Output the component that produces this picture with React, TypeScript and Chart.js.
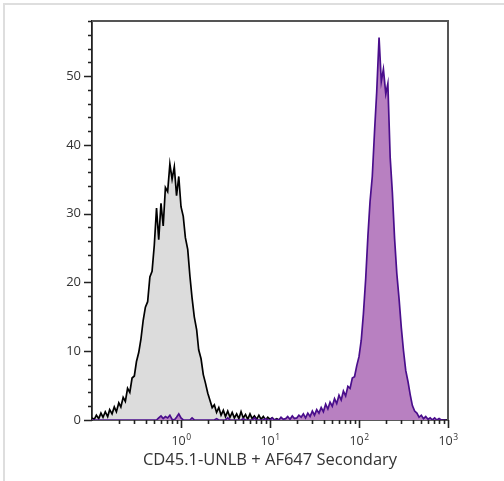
import { useEffect, useRef } from "react";
import { Chart, registerables } from "chart.js";

Chart.register(...registerables);

// Histogram bin centres (log-spaced channels)
const bins = [
  0.1, 0.106, 0.112, 0.119, 0.126, 0.133, 0.141, 0.15, 0.158, 0.168, 0.178, 0.188, 0.2, 0.211, 0.224, 0.237, 0.251, 0.266, 0.282, 0.299,
  0.316, 0.335, 0.355, 0.376, 0.398, 0.422, 0.447, 0.473, 0.501, 0.531, 0.562, 0.596, 0.631, 0.668, 0.708, 0.75, 0.794, 0.841, 0.891, 0.944,
  1.0, 1.06, 1.12, 1.19, 1.26, 1.33, 1.41, 1.5, 1.58, 1.68, 1.78, 1.88, 2.0, 2.11, 2.24, 2.37, 2.51, 2.66, 2.82, 2.99,
  3.16, 3.35, 3.55, 3.76, 3.98, 4.22, 4.47, 4.73, 5.01, 5.31, 5.62, 5.96, 6.31, 6.68, 7.08, 7.5, 7.94, 8.41, 8.91, 9.44,
  10.0, 10.6, 11.2, 11.9, 12.6, 13.3, 14.1, 15.0, 15.8, 16.8, 17.8, 18.8, 20.0, 21.1, 22.4, 23.7, 25.1, 26.6, 28.2, 29.9,
  31.6, 33.5, 35.5, 37.6, 39.8, 42.2, 44.7, 47.3, 50.1, 53.1, 56.2, 59.6, 63.1, 66.8, 70.8, 75.0, 79.4, 84.1, 89.1, 94.4,
  100, 106, 112, 119, 126, 133, 141, 150, 158, 168, 178, 188, 200, 211, 224, 237, 251, 266, 282, 299,
  316, 335, 355, 376, 398, 422, 447, 473, 501, 531, 562, 596, 631, 668, 708, 750, 794, 841, 891, 944,
];

// Control histogram (grey)
const grayCounts = [
  0.3, 0.1, 0.7, 0.2, 1.0, 0.4, 1.2, 0.5, 1.5, 0.9, 1.9, 1.2, 2.5, 1.9, 3.3, 2.7, 4.6, 4.0, 6.1, 6.4,
  8.5, 9.8, 11.8, 14.5, 16.4, 17.2, 20.8, 21.6, 25.4, 30.8, 26.2, 31.5, 28.2, 33.8, 33.2, 37.2, 35.0, 36.8, 32.6, 35.4,
  31.0, 29.6, 26.5, 24.8, 20.9, 17.8, 15.0, 13.1, 10.2, 8.9, 6.6, 5.4, 3.9, 2.9, 1.8, 2.2, 1.1, 1.8, 0.7, 1.4,
  0.5, 1.3, 0.4, 1.1, 0.3, 0.9, 0.2, 1.2, 0.3, 0.8, 0.1, 0.9, 0.2, 0.6, 0.1, 0.7, 0.1, 0.5, 0, 0.4,
  0.1, 0.3, 0, 0.2, 0, 0.3, 0, 0.1, 0, 0.2, 0, 0.1, 0, 0.2, 0, 0.1, 0, 0.1, 0, 0,
];

// Stained histogram (purple)
const purpleCounts = [
  0, 0, 0, 0, 0, 0, 0, 0, 0, 0, 0, 0, 0, 0, 0, 0, 0, 0, 0, 0,
  0, 0, 0, 0, 0, 0, 0, 0, 0, 0, 0.3, 0.6, 0.2, 0.5, 0.3, 0.7, 0.1, 0, 0.4, 0.9,
  0.3, 0, 0, 0, 0, 0.3, 0, 0, 0, 0, 0, 0, 0, 0, 0, 0, 0.2, 0, 0, 0,
  0, 0.3, 0, 0, 0, 0, 0, 0, 0.2, 0, 0, 0, 0, 0.3, 0, 0, 0, 0, 0.2, 0,
  0, 0.3, 0, 0.1, 0, 0.4, 0.1, 0.2, 0.5, 0.1, 0.6, 0.2, 0.3, 0.7, 0.4, 0.9, 0.3, 1.0, 0.5, 1.3,
  0.7, 1.5, 1.0, 1.8, 1.2, 2.3, 1.6, 2.6, 2.0, 3.1, 2.4, 3.6, 2.9, 4.2, 3.5, 4.9, 4.6, 6.1, 6.3, 7.9,
  9.2, 11.6, 15.4, 20.6, 26.8, 31.7, 35.4, 42.3, 47.6, 55.6, 49.2, 51.0, 47.4, 48.9, 38.2, 33.1, 26.4, 21.3, 17.6, 13.4,
  10.1, 7.2, 5.6, 3.7, 2.1, 1.3, 1.0, 0.4, 0.7, 0.2, 0.5, 0.1, 0.3, 0, 0.3, 0, 0.2, 0, 0, 0,
];

const xMajorTicks = [1, 10, 100, 1000];
const xTickBases = ["10", "10", "10", "10"];
const xTickExponents = ["0", "1", "2", "3"];
const xMinorTicks = [
  0.2, 0.3, 0.4, 0.5, 0.6, 0.7, 0.8, 0.9,
  2, 3, 4, 5, 6, 7, 8, 9,
  20, 30, 40, 50, 60, 70, 80, 90,
  200, 300, 400, 500, 600, 700, 800, 900,
];
const yMajorTicks = [0, 10, 20, 30, 40, 50];
const yMinorTicks = [2, 4, 6, 8, 12, 14, 16, 18, 22, 24, 26, 28, 32, 34, 36, 38, 42, 44, 46, 48, 52, 54, 56, 58];
const xTitle = "CD45.1-UNLB + AF647 Secondary";

const W = 504;
const H = 481;
const LEFT = 92;
const RIGHT = 448;
const TOP = 21;
const BOTTOM = 420;
const FONT = "'Open Sans', sans-serif";

const tickPlugin = {
  id: "fcsTicks",
  afterDraw(chart: any) {
    const { ctx, chartArea } = chart;
    const x = chart.scales.x;
    const y = chart.scales.y;
    ctx.save();
    // frame top & right
    ctx.strokeStyle = "#555";
    ctx.lineWidth = 2;
    ctx.beginPath();
    ctx.moveTo(chartArea.left, chartArea.top);
    ctx.lineTo(chartArea.right, chartArea.top);
    ctx.lineTo(chartArea.right, chartArea.bottom);
    ctx.stroke();

    ctx.strokeStyle = "#222";
    ctx.lineWidth = 1.6;
    ctx.beginPath();
    yMajorTicks.forEach((v) => {
      const py = Math.round(y.getPixelForValue(v)) + 0.5;
      ctx.moveTo(chartArea.left - 8, py);
      ctx.lineTo(chartArea.left, py);
    });
    yMinorTicks.forEach((v) => {
      const py = Math.round(y.getPixelForValue(v)) + 0.5;
      ctx.moveTo(chartArea.left - 4, py);
      ctx.lineTo(chartArea.left, py);
    });
    xMajorTicks.forEach((v) => {
      const px = Math.round(x.getPixelForValue(v)) + 0.5;
      ctx.moveTo(px, chartArea.bottom);
      ctx.lineTo(px, chartArea.bottom + 8);
    });
    xMinorTicks.forEach((v) => {
      const px = Math.round(x.getPixelForValue(v)) + 0.5;
      ctx.moveTo(px, chartArea.bottom);
      ctx.lineTo(px, chartArea.bottom + 4);
    });
    ctx.stroke();

    // x tick labels with superscript exponents
    ctx.fillStyle = "#333";
    ctx.textBaseline = "alphabetic";
    ctx.textAlign = "left";
    xMajorTicks.forEach((v, i) => {
      const px = x.getPixelForValue(v);
      ctx.font = `12.5px ${FONT}`;
      const bw = ctx.measureText(xTickBases[i]).width;
      ctx.font = `8.5px ${FONT}`;
      const ew = ctx.measureText(xTickExponents[i]).width;
      const start = px - (bw + ew) / 2;
      ctx.font = `12.5px ${FONT}`;
      ctx.fillText(xTickBases[i], start, chartArea.bottom + 25);
      ctx.font = `8.5px ${FONT}`;
      ctx.fillText(xTickExponents[i], start + bw + 0.5, chartArea.bottom + 20);
    });
    ctx.restore();
  },
};

export default function App() {
  const ref = useRef<HTMLCanvasElement | null>(null);

  useEffect(() => {
    if (!ref.current) return;
    const grayData = grayCounts.map((c, i) => ({ x: bins[i], y: c }));
    const purpleData = purpleCounts.map((c, i) => ({ x: bins[i], y: c }));
    const chart = new Chart(ref.current, {
      type: "line",
      data: {
        datasets: [
          {
            label: "Stained",
            data: purpleData,
            borderColor: "#4a0e8c",
            backgroundColor: "#b880c1",
            borderWidth: 1.7,
            fill: "origin",
            pointRadius: 0,
            tension: 0,
          },
          {
            label: "Control",
            data: grayData,
            borderColor: "#000000",
            backgroundColor: "#dcdcdc",
            borderWidth: 1.7,
            fill: "origin",
            pointRadius: 0,
            tension: 0,
          },
        ],
      },
      options: {
        responsive: false,
        animation: false,
        events: [],
        layout: { padding: { left: 0, top: TOP, right: W - RIGHT, bottom: 0 } },
        plugins: { legend: { display: false }, tooltip: { enabled: false } },
        scales: {
          x: {
            type: "logarithmic",
            min: 0.1,
            max: 1000,
            afterFit: (s: any) => {
              s.height = H - BOTTOM;
            },
            afterBuildTicks: (s: any) => {
              s.ticks = xMajorTicks.map((v) => ({ value: v }));
            },
            ticks: { display: false },
            grid: { display: true, drawOnChartArea: false, drawTicks: false },
            border: { display: true, color: "#222", width: 1.8 },
            title: {
              display: true,
              text: xTitle,
              color: "#333",
              font: { family: FONT, size: 16.5 },
              padding: { top: 0, bottom: 11 },
            },
          },
          y: {
            type: "linear",
            min: 0,
            max: 58,
            afterFit: (s: any) => {
              s.width = LEFT;
            },
            afterBuildTicks: (s: any) => {
              s.ticks = yMajorTicks.map((v) => ({ value: v }));
            },
            ticks: {
              padding: 11,
              color: "#333",
              font: { family: FONT, size: 13 },
            },
            grid: { display: true, drawOnChartArea: false, drawTicks: false },
            border: { display: true, color: "#222", width: 1.8 },
          },
        },
      },
      plugins: [tickPlugin],
    });
    return () => chart.destroy();
  }, []);

  return (
    <div style={{ position: "absolute", left: 0, top: 0, width: W, height: H, background: "#fff", overflow: "hidden" }}>
      <div
        style={{
          position: "absolute",
          left: 3,
          top: 3,
          width: 540,
          height: 540,
          border: "2px solid #dedede",
        }}
      />
      <canvas ref={ref} width={W} height={H} style={{ position: "absolute", left: 0, top: 0, width: W, height: H }} />
    </div>
  );
}
